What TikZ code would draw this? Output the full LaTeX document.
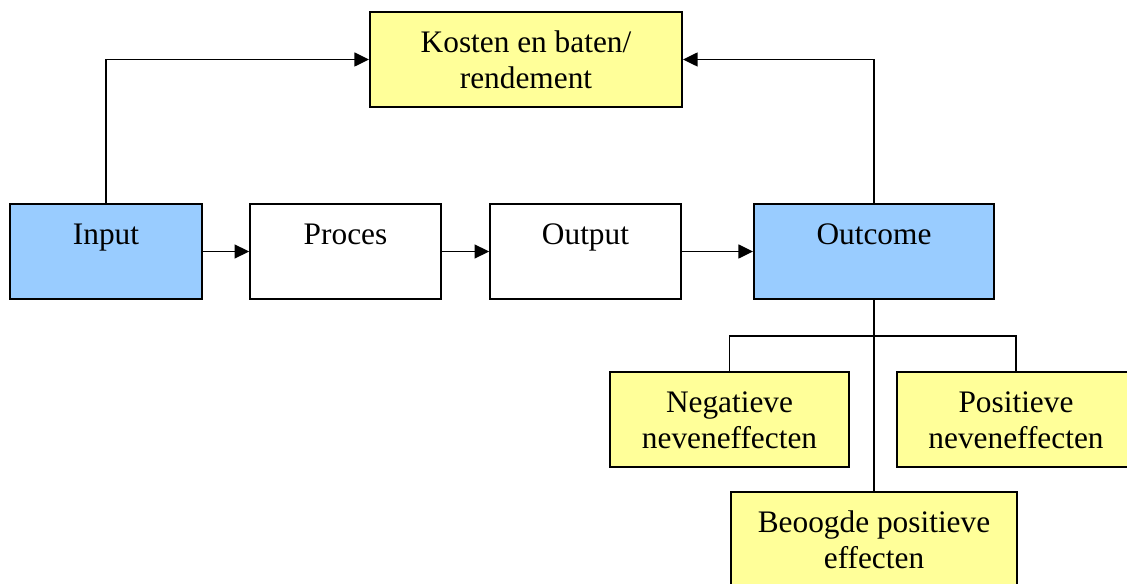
\documentclass[tikz,border=0pt]{standalone}
\usepackage{fontspec}
\setmainfont{Liberation Serif}
\usetikzlibrary{arrows.meta}
\definecolor{boxblue}{HTML}{99CCFF}
\definecolor{boxyellow}{HTML}{FFFF99}
\begin{document}
\begin{tikzpicture}[x=0.75pt,y=-0.75pt,
  >={Triangle[length=11pt,width=10.5pt]},
  box/.style={draw,line width=1.5pt,align=center,minimum height=71.25pt,
    inner sep=0pt,font=\fontsize{23.5}{27}\selectfont,
    text height=50pt,text depth=7.2pt},
  blue/.style={box,fill=boxblue},
  yellow/.style={box,fill=boxyellow},
  white/.style={box,fill=white},
  line/.style={line width=1.1pt}]

\useasboundingbox (0,0) rectangle (1127,584);
\clip (0,0) rectangle (1127,584);

\node[yellow,minimum width=234pt] (kosten) at (526,59.5) {Kosten en baten/\\rendement};

\node[blue,minimum width=144pt]  (input)   at (106,251.5)   {Input\\\mbox{}};
\node[white,minimum width=143pt] (proces)  at (345.5,251.5) {Proces\\\mbox{}};
\node[white,minimum width=143pt] (output)  at (585.5,251.5) {Output\\\mbox{}};
\node[blue,minimum width=180pt]  (outcome) at (874,251.5)   {Outcome\\\mbox{}};

\node[yellow,minimum width=179pt] (negatief) at (729.5,419.5) {Negatieve\\neveneffecten};
\node[yellow,minimum width=179pt] (positief) at (1016,419.5)  {Positieve\\neveneffecten};
\node[yellow,minimum width=215pt] (beoogd)   at (874,539.5)   {Beoogde positieve\\effecten};

\coordinate (split) at (874,336);

\draw[line,->] (input.north) |- (kosten.west);
\draw[line,->] (outcome.north) |- (kosten.east);

\draw[line,->] (input) -- (proces);
\draw[line,->] (proces) -- (output);
\draw[line,->] (output) -- (outcome);

\draw[line] (outcome.south) -- (beoogd.north);
\draw[line] (negatief.north) |- (split) -| (positief.north);

\end{tikzpicture}
\end{document}
